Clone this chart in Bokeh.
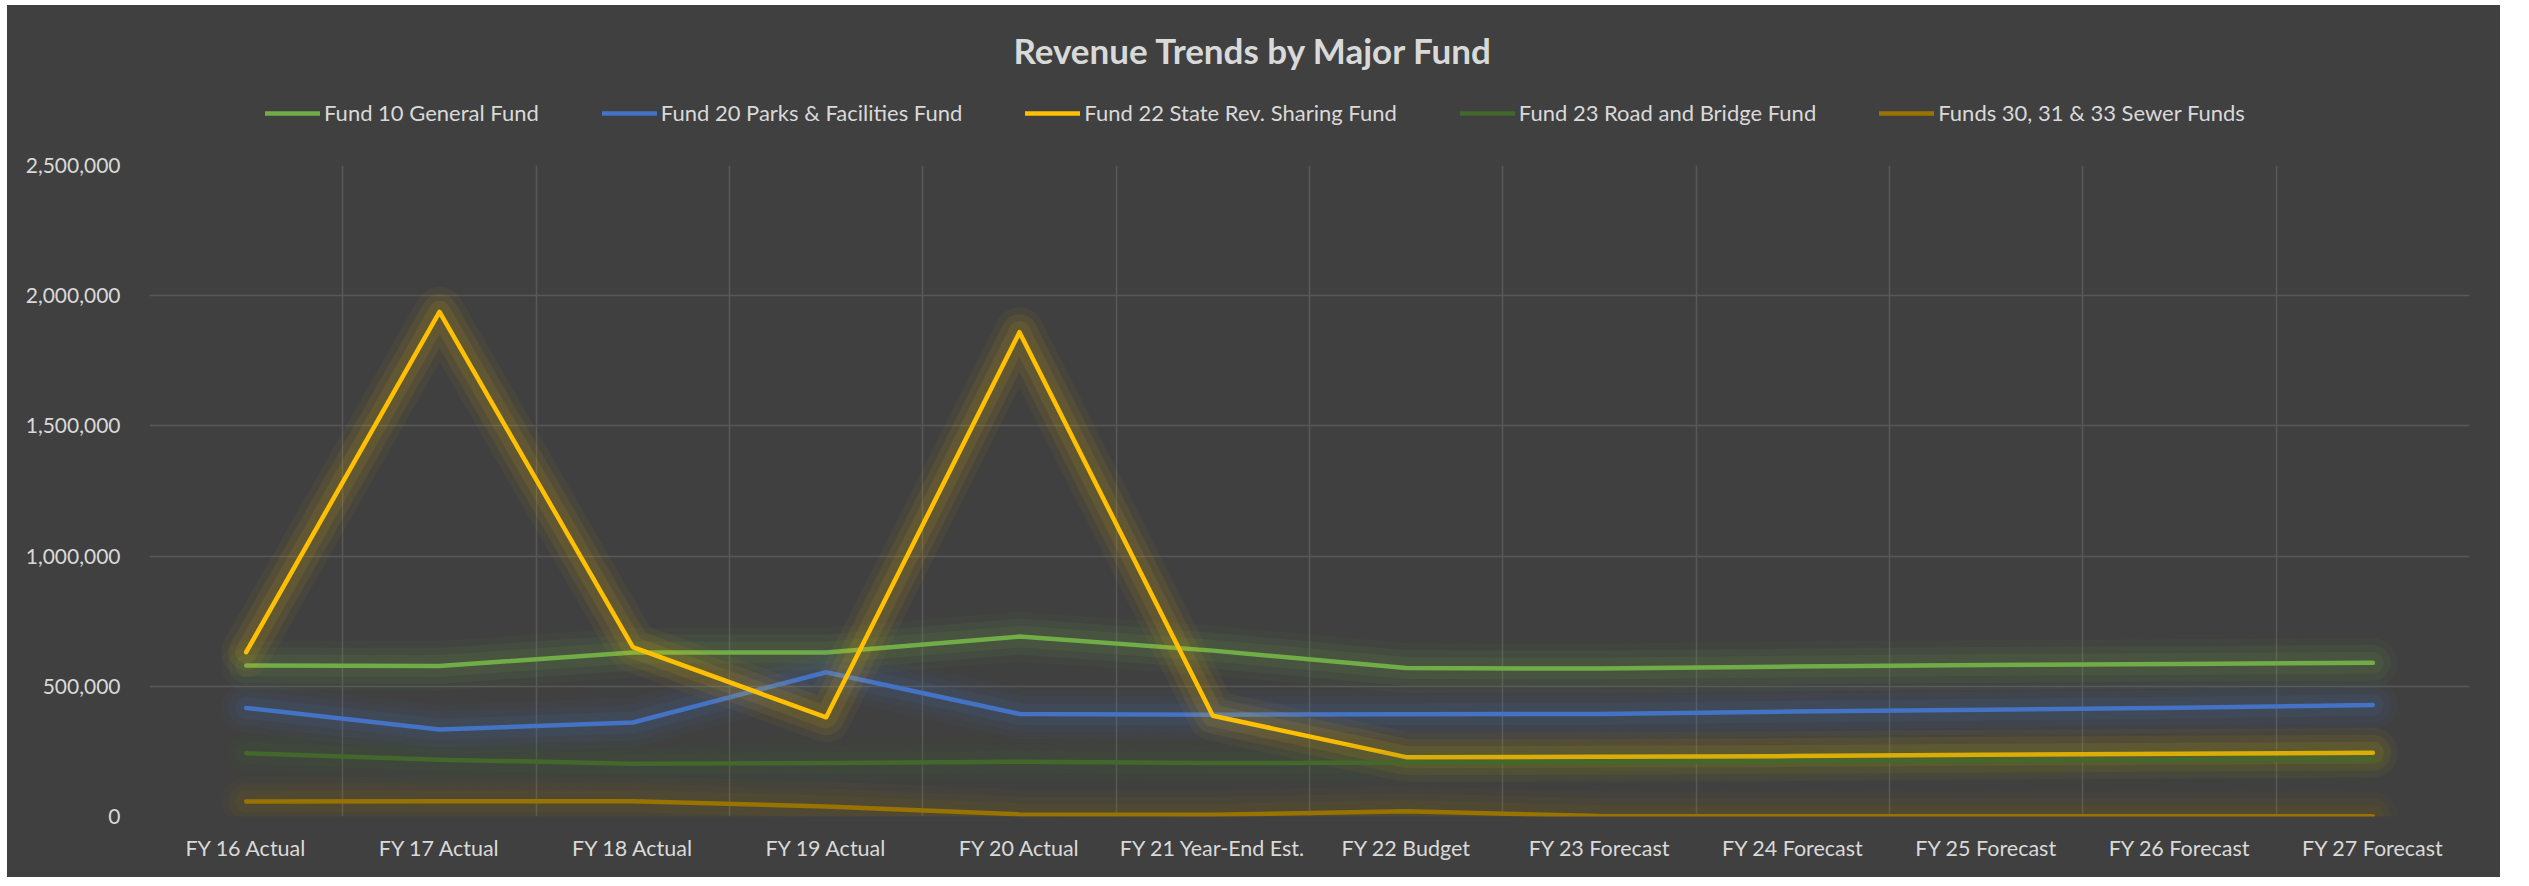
from bokeh.plotting import figure
from bokeh.layouts import column
from bokeh.models import (Range1d, FixedTicker, NumeralTickFormatter, Legend, LegendItem, Label)
from bokeh.embed import file_html
from bokeh.resources import INLINE

# ---- data ----
categories = ["FY 16 Actual", "FY 17 Actual", "FY 18 Actual", "FY 19 Actual", "FY 20 Actual",
              "FY 21 Year-End Est.", "FY 22 Budget", "FY 23 Forecast", "FY 24 Forecast",
              "FY 25 Forecast", "FY 26 Forecast", "FY 27 Forecast"]
fund10 = [580000, 578000, 630000, 630000, 691000, 637000, 570000, 568000, 576000, 582000, 586000, 590000]
fund20 = [417000, 334000, 361000, 554000, 394000, 391000, 393000, 394000, 403000, 410000, 418000, 428000]
fund22 = [631000, 1938000, 650000, 381000, 1860000, 387000, 228000, 229000, 232000, 237000, 241000, 245000]
fund23 = [243000, 218000, 203000, 205000, 210000, 205000, 207000, 209000, 212000, 215000, 218000, 221000]
sewer = [58000, 59000, 59000, 38000, 8000, 7000, 20000, 2000, 1000, 1000, 1000, 1000]
series_names = ["Fund 10 General Fund", "Fund 20 Parks & Facilities Fund",
                "Fund 22 State Rev. Sharing Fund", "Fund 23 Road and Bridge Fund",
                "Funds 30, 31 & 33 Sewer Funds"]
series_values = [fund10, fund20, fund22, fund23, sewer]
series_colors = ["#70AD47", "#4472C4", "#FFC000", "#43682B", "#997300"]
y_ticks = [0, 500000, 1000000, 1500000, 2000000, 2500000]
title_text = "Revenue Trends by Major Fund"

BG = "#404040"
TXT = "#D9D9D9"
GRID = "#585858"
FONT = "Lato"
OFF_X, OFF_Y = 7, 5          # white page margin round the chart
W = 2500 - OFF_X
HEAD_H = 145 - OFF_Y
FRAME_L = 149 - OFF_X
FRAME_R = 31

xs = [i + 0.5 for i in range(len(categories))]

# ---- header (title + legend) ----
head = figure(width=W, height=HEAD_H, output_backend="svg", toolbar_location=None,
              x_range=Range1d(0, 1), y_range=Range1d(0, 1),
              x_axis_type=None, y_axis_type=None,
              background_fill_color=BG, border_fill_color=BG,
              outline_line_color=BG, outline_line_width=4,
              min_border_left=FRAME_L, min_border_right=FRAME_R, min_border_top=0,
              min_border_bottom=0)
head.grid.visible = False

items = []
for name, vals, col in zip(series_names, series_values, series_colors):
    # legend swatches (data lies outside this header's range, so only the swatch shows)
    r = head.line(xs, vals, line_color=col, line_width=4.5, line_cap="round")
    items.append(LegendItem(label=name, renderers=[r]))

legend = Legend(items=items, orientation="horizontal", location=(265 - 149, 19),
                glyph_width=55, glyph_height=20, label_standoff=4, spacing=63,
                padding=0, margin=0, background_fill_alpha=0, border_line_alpha=0,
                label_text_color=TXT, label_text_font=FONT, label_text_font_size="22px")
head.add_layout(legend)

title = Label(x=1253 - 149, y=96, x_units="screen", y_units="screen",
              text=title_text, text_align="center", text_baseline="middle", text_color=TXT,
              text_font=FONT, text_font_size="35px", text_font_style="bold")
head.add_layout(title)

# ---- main chart ----
p = figure(width=W, height=877 - 145, output_backend="svg", toolbar_location=None,
           x_range=Range1d(0, len(categories)), y_range=Range1d(0, 2500000),
           background_fill_color=BG, border_fill_color=BG, outline_line_color=None,
           min_border_left=FRAME_L, min_border_right=FRAME_R, min_border_top=20,
           min_border_bottom=61)

p.xaxis.ticker = FixedTicker(ticks=xs)
p.xaxis.major_label_overrides = {x: c for x, c in zip(xs, categories)}
p.yaxis.ticker = FixedTicker(ticks=y_ticks)
p.yaxis.formatter = NumeralTickFormatter(format="0,0")
for ax in (p.xaxis[0], p.yaxis[0]):
    ax.axis_line_color = None
    ax.major_tick_line_color = None
    ax.minor_tick_line_color = None
    ax.major_tick_out = 0
    ax.major_tick_in = 0
    ax.major_label_text_color = TXT
    ax.major_label_text_font = FONT
    ax.major_label_text_font_size = "21px"
p.xaxis.major_label_text_font_size = "21.5px"
p.yaxis.major_label_standoff = 29
p.xaxis.major_label_standoff = 18

p.xgrid.ticker = FixedTicker(ticks=list(range(len(categories) + 1)))
p.xgrid.grid_line_color = GRID
p.xgrid.grid_line_width = 1.5
p.ygrid.ticker = FixedTicker(ticks=y_ticks)
p.ygrid.grid_line_color = GRID
p.ygrid.grid_line_width = 1.5

for vals, col in zip(series_values, series_colors):
    for w, a in ((50, 0.045), (36, 0.065), (22, 0.085)):
        p.line(xs, vals, line_color=col, line_width=w, line_alpha=a,
               line_cap="round", line_join="round")
    p.line(xs, vals, line_color=col, line_width=4.5, line_cap="round", line_join="round")

layout = column(head, p, spacing=0, margin=(OFF_Y, 0, 0, OFF_X),
                styles={"background-color": BG})
open("out.html", "w").write(file_html(layout, INLINE))
